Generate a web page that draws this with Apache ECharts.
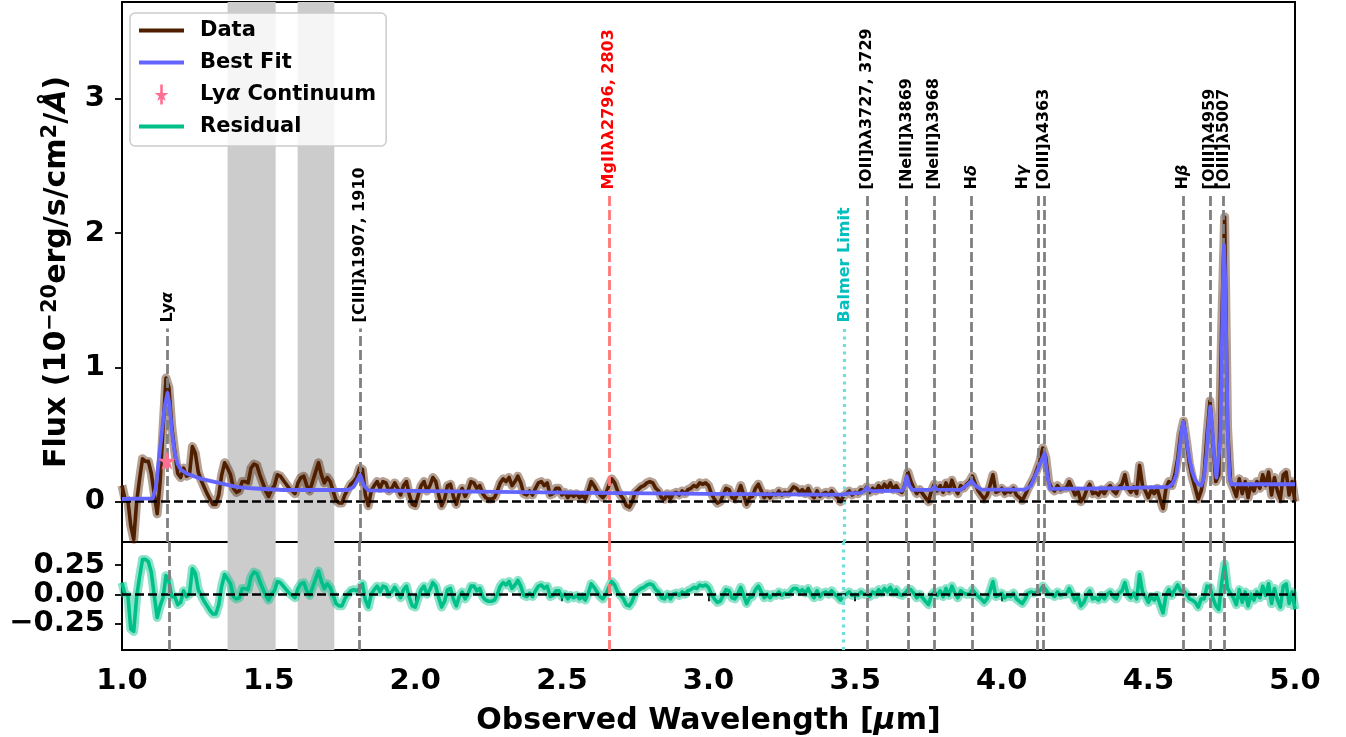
<!DOCTYPE html>
<html><head><meta charset="utf-8">
<script src="https://cdn.jsdelivr.net/npm/echarts@6/dist/echarts.min.js"></script>
<style>html,body{margin:0;padding:0;background:#fff}#chart{width:1346px;height:737px}</style>
</head><body><div id="chart"></div>
<script>
// ---------------- data ----------------
const WAVE_START = 1.0;   // µm, first spectral pixel
const WAVE_STEP = 0.01;   // µm per pixel
const flux = [
 0.12, 0.02, 0.01, -0.18, -0.28, 0.00, 0.17, 0.32, 0.30, 0.30,
 0.21, 0.06, -0.09, 0.15, 0.55, 0.92, 0.85, 0.55, 0.37, 0.21,
 0.18, 0.25, 0.19, 0.20, 0.41, 0.36, 0.22, 0.16, 0.11, 0.06,
 0.02, -0.02, -0.02, 0.05, 0.20, 0.29, 0.25, 0.20, 0.10, 0.07,
 0.08, 0.15, 0.15, 0.14, 0.25, 0.28, 0.27, 0.20, 0.14, 0.08,
 0.04, 0.09, 0.12, 0.20, 0.19, 0.16, 0.13, 0.10, 0.08, 0.06,
 0.14, 0.18, 0.19, 0.12, 0.08, 0.15, 0.22, 0.29, 0.20, 0.14,
 0.18, 0.15, 0.08, 0.01, -0.01, -0.01, 0.05, 0.09, 0.13, 0.15,
 0.18, 0.25, 0.24, 0.05, -0.03, 0.08, 0.12, 0.15, 0.10, 0.15,
 0.14, 0.08, 0.10, 0.14, 0.10, 0.05, 0.12, 0.15, 0.05, -0.02,
 -0.03, 0.05, 0.12, 0.15, 0.08, 0.12, 0.18, 0.15, 0.05, -0.03,
 0.02, 0.12, 0.13, 0.04, -0.02, 0.06, 0.10, 0.04, 0.08, 0.15,
 0.14, 0.10, 0.12, 0.06, 0.03, 0.02, 0.02, 0.03, 0.08, 0.14,
 0.17, 0.15, 0.18, 0.12, 0.15, 0.19, 0.14, 0.06, 0.05, 0.08,
 0.05, 0.10, 0.14, 0.15, 0.12, 0.14, 0.05, 0.06, 0.10, 0.10,
 0.05, 0.07, 0.03, 0.06, 0.04, 0.06, 0.03, 0.05, 0.02, 0.08,
 0.15, 0.12, 0.08, 0.05, 0.03, 0.06, 0.12, 0.17, 0.14, 0.08,
 0.05, 0.02, -0.03, -0.04, 0.00, 0.07, 0.09, 0.11, 0.12, 0.14,
 0.15, 0.14, 0.10, 0.08, 0.03, 0.02, 0.06, 0.02, 0.06, 0.07,
 0.05, 0.08, 0.06, 0.09, 0.10, 0.12, 0.11, 0.14, 0.13, 0.14,
 0.12, 0.06, 0.02, -0.01, 0.00, 0.05, 0.10, 0.09, 0.03, 0.02,
 0.06, 0.12, 0.05, -0.02, 0.03, 0.04, 0.10, 0.13, 0.08, 0.03,
 0.06, 0.03, 0.06, 0.05, 0.08, 0.05, 0.07, 0.06, 0.08, 0.11,
 0.10, 0.07, 0.09, 0.06, 0.10, 0.05, 0.03, 0.08, 0.04, 0.06,
 0.07, 0.05, 0.08, 0.05, 0.03, 0.00, 0.04, 0.06, 0.08, 0.05,
 0.07, 0.06, 0.09, 0.08, 0.11, 0.07, 0.10, 0.08, 0.12, 0.09,
 0.13, 0.10, 0.14, 0.09, 0.12, 0.08, 0.07, 0.13, 0.22, 0.15,
 0.10, 0.06, 0.09, 0.06, 0.03, 0.00, 0.08, 0.13, 0.08, 0.12,
 0.07, 0.14, 0.08, 0.16, 0.10, 0.06, 0.12, 0.10, 0.13, 0.15,
 0.19, 0.13, 0.08, 0.05, 0.02, 0.05, 0.12, 0.20, 0.07, 0.08,
 0.10, 0.06, 0.08, 0.07, 0.10, 0.05, 0.03, 0.01, 0.05, 0.10,
 0.14, 0.18, 0.24, 0.30, 0.40, 0.33, 0.15, 0.10, 0.08, 0.12,
 0.09, 0.10, 0.10, 0.15, 0.10, 0.05, 0.08, 0.00, 0.03, 0.09,
 0.13, 0.06, 0.07, 0.05, 0.09, 0.06, 0.10, 0.12, 0.08, 0.06,
 0.11, 0.13, 0.20, 0.10, 0.07, 0.11, 0.06, 0.27, 0.12, 0.08,
 0.03, 0.09, 0.06, 0.10, 0.02, -0.05, 0.10, 0.15, 0.12, 0.20,
 0.32, 0.50, 0.60, 0.45, 0.28, 0.18, 0.10, 0.02, 0.08, 0.20,
 0.50, 0.75, 0.45, 0.15, 0.20, 1.30, 2.12, 0.55, 0.15, 0.10,
 0.04, 0.17, 0.06, 0.15, 0.03, 0.13, 0.08, 0.15, 0.10, 0.20,
 0.12, 0.22, 0.05, 0.18, 0.08, 0.02, 0.20, 0.22, 0.05, 0.15,
 0.00
];
const residual = [
 0.10, 0.00, -0.01, -0.30, -0.32, -0.02, 0.15, 0.30, 0.30, 0.28,
 0.19, -0.01, -0.20, -0.10, -0.03, 0.16, 0.11, -0.02, -0.02, -0.09,
 -0.07, 0.03, -0.02, 0.00, 0.22, 0.18, 0.04, -0.01, -0.06, -0.10,
 -0.14, -0.17, -0.17, -0.09, 0.07, 0.17, 0.13, 0.09, -0.02, -0.04,
 -0.03, 0.05, 0.05, 0.04, 0.15, 0.19, 0.18, 0.11, 0.05, -0.01,
 -0.05, 0.00, 0.03, 0.11, 0.10, 0.07, 0.04, 0.01, -0.01, -0.03,
 0.05, 0.09, 0.10, 0.03, -0.01, 0.06, 0.13, 0.20, 0.11, 0.05,
 0.09, 0.06, -0.01, -0.08, -0.10, -0.10, -0.04, 0.00, 0.03, 0.04,
 0.03, 0.05, 0.09, -0.05, -0.11, 0.00, 0.04, 0.07, 0.02, 0.07,
 0.06, 0.00, 0.02, 0.06, 0.02, -0.03, 0.04, 0.07, -0.03, -0.10,
 -0.11, -0.03, 0.04, 0.07, 0.00, 0.04, 0.10, 0.07, -0.03, -0.11,
 -0.06, 0.04, 0.05, -0.04, -0.10, -0.02, 0.02, -0.04, 0.00, 0.07,
 0.07, 0.03, 0.05, -0.02, -0.05, -0.06, -0.06, -0.05, 0.00, 0.07,
 0.10, 0.08, 0.11, 0.05, 0.08, 0.12, 0.07, -0.01, -0.02, 0.01,
 -0.02, 0.03, 0.07, 0.08, 0.05, 0.07, -0.02, -0.01, 0.03, 0.03,
 -0.02, 0.00, -0.04, -0.01, -0.03, -0.01, -0.04, -0.02, -0.05, 0.01,
 0.09, 0.06, 0.02, -0.02, -0.04, 0.00, 0.06, 0.11, 0.08, 0.02,
 -0.01, -0.04, -0.09, -0.10, -0.06, 0.01, 0.03, 0.05, 0.06, 0.08,
 0.09, 0.08, 0.04, 0.02, -0.03, -0.04, 0.00, -0.04, 0.00, 0.01,
 -0.01, 0.02, 0.00, 0.03, 0.04, 0.06, 0.05, 0.08, 0.07, 0.08,
 0.06, 0.00, -0.04, -0.07, -0.06, -0.01, 0.04, 0.03, -0.03, -0.04,
 0.00, 0.06, -0.01, -0.08, -0.03, -0.02, 0.04, 0.07, 0.02, -0.03,
 0.00, -0.03, 0.00, -0.01, 0.02, -0.01, 0.01, 0.00, 0.02, 0.05,
 0.05, 0.02, 0.04, 0.01, 0.05, 0.00, -0.03, 0.03, -0.02, 0.01,
 0.02, 0.00, 0.03, 0.00, -0.02, -0.05, -0.01, 0.00, 0.02, -0.01,
 0.00, -0.01, 0.02, 0.00, 0.00, -0.02, 0.02, 0.00, 0.04, 0.01,
 0.05, 0.02, 0.06, 0.01, 0.04, 0.00, -0.01, 0.01, 0.04, 0.04,
 0.01, -0.03, 0.00, -0.03, -0.06, -0.09, -0.01, 0.02, -0.01, 0.03,
 -0.02, 0.05, -0.01, 0.07, 0.01, -0.03, 0.03, 0.01, 0.00, 0.00,
 0.04, 0.01, -0.02, -0.04, -0.07, -0.04, 0.03, 0.11, -0.02, -0.01,
 0.01, -0.03, -0.01, -0.02, 0.01, -0.04, -0.06, -0.08, -0.04, 0.01,
 0.02, 0.01, 0.02, 0.03, 0.07, 0.04, 0.00, 0.00, -0.02, 0.02,
 -0.01, 0.00, 0.00, 0.05, 0.00, -0.05, -0.02, -0.10, -0.07, -0.01,
 0.03, -0.04, -0.03, -0.05, -0.01, -0.04, 0.00, 0.02, -0.02, -0.04,
 0.01, 0.03, 0.10, 0.00, -0.03, 0.01, -0.04, 0.17, 0.02, -0.02,
 -0.07, -0.02, -0.05, -0.01, -0.09, -0.16, -0.01, 0.04, -0.01, 0.04,
 0.08, 0.03, 0.03, 0.00, -0.04, -0.05, -0.07, -0.11, -0.04, -0.04,
 0.07, 0.06, -0.03, -0.10, -0.13, 0.10, 0.26, 0.05, 0.01, -0.03,
 -0.09, 0.04, -0.07, 0.02, -0.10, 0.00, -0.05, 0.02, -0.03, 0.07,
 -0.01, 0.09, -0.08, 0.05, -0.05, -0.11, 0.07, 0.09, -0.08, 0.02,
 -0.13
];
// best-fit model, [wavelength µm, flux]
const bestFit = [
 [1.00,0.02],[1.105,0.025],[1.115,0.10],[1.125,0.30],[1.135,0.50],[1.145,0.70],[1.155,0.81],
 [1.162,0.72],[1.17,0.52],[1.18,0.36],[1.19,0.28],[1.20,0.24],[1.22,0.21],[1.27,0.17],
 [1.33,0.14],[1.39,0.11],[1.44,0.10],[1.55,0.087],[1.77,0.087],[1.79,0.11],[1.80,0.15],
 [1.812,0.20],[1.825,0.12],[1.84,0.085],[2.2,0.075],[2.6,0.065],[3.0,0.058],[3.4,0.053],
 [3.46,0.053],[3.47,0.06],[3.52,0.065],[3.53,0.08],[3.541,0.105],[3.55,0.085],[3.56,0.078],
 [3.66,0.082],[3.67,0.12],[3.676,0.19],[3.685,0.12],[3.695,0.088],[3.76,0.088],[3.77,0.11],
 [3.78,0.09],[3.86,0.088],[3.885,0.13],[3.897,0.155],[3.91,0.12],[3.93,0.09],[4.08,0.09],
 [4.10,0.12],[4.125,0.25],[4.146,0.36],[4.155,0.20],[4.165,0.095],[4.40,0.10],[4.57,0.11],
 [4.585,0.14],[4.595,0.20],[4.605,0.36],[4.612,0.50],[4.618,0.59],[4.624,0.55],[4.632,0.43],
 [4.64,0.32],[4.65,0.22],[4.66,0.16],[4.67,0.13],[4.68,0.12],[4.69,0.18],[4.698,0.35],
 [4.705,0.58],[4.711,0.71],[4.717,0.58],[4.724,0.35],[4.732,0.18],[4.738,0.17],[4.745,0.45],
 [4.75,1.05],[4.754,1.60],[4.758,1.91],[4.762,1.65],[4.766,1.10],[4.771,0.50],[4.776,0.20],
 [4.782,0.13],[5.00,0.13]
];
const lyaContWave = 1.153, lyaContFlux = 0.305, lyaContErr = 0.06;
const maskedRanges = [[1.36, 1.524], [1.599, 1.724]];
const lineNames = ['Lyα', '[CIII]λ1907, 1910', 'MgIIλλ2796, 2803', 'Balmer Limit',
  '[OII]λλ3727, 3729', '[NeIII]λ3869', '[NeIII]λ3968', 'Hδ', 'Hγ', '[OIII]λ4363',
  'Hβ', '[OIII]λ4959', '[OIII]λ5007'];
const lineWaves = [1.155, 1.812, 2.660, 3.464, 3.541, 3.676, 3.770, 3.897, 4.123, 4.145, 4.618, 4.711, 4.757];
const fluxTicks = [0, 1, 2, 3];
const residTicks = [-0.25, 0, 0.25];

// ---------------- build ----------------
const FONT = 'DejaVu Sans';
const wave = flux.map((_, i) => +(WAVE_START + i * WAVE_STEP).toFixed(3));
const fluxPts = flux.map((v, i) => [wave[i], v]);
const residPts = residual.map((v, i) => [wave[i], v]);
const LOW_LINES = new Set(['Lyα', '[CIII]λ1907, 1910', 'Balmer Limit']);
const lineStyleFor = n => n.startsWith('Mg') ? {color:'#ff7878', type:[10,4], width:2.8, opacity:1}
  : n === 'Balmer Limit' ? {color:'#70dcdc', type:[3,4.5], width:3.2, opacity:1}
  : {color:'#808080', type:[10,4], width:2.8, opacity:1};
const labelColor = n => n.startsWith('Mg') ? '#ff0000' : n === 'Balmer Limit' ? '#00bfbf' : '#000';
const richText = n => n.replace(/([αβγδ])/g, '{it|$1}');

const mainMark = lineNames.map((n, i) => {
  const top = LOW_LINES.has(n) ? 1.29 : 2.28;
  const ls = lineStyleFor(n);
  return [{coord:[lineWaves[i], -0.3], lineStyle: ls}, {coord:[lineWaves[i], top], lineStyle: ls}];
});
const residMark = lineNames.map((n, i) => ({xAxis: lineWaves[i], lineStyle: lineStyleFor(n)}));
const labelPts = lineNames.map((n, i) => ({
  value: [lineWaves[i], LOW_LINES.has(n) ? 1.29 : 2.28],
  label: {
    show: true, formatter: richText(n), rotate: 90, position: 'top', distance: 6,
    align: 'left', verticalAlign: 'middle', offset: n === 'Hγ' ? [0, -15] : [0, 0],
    fontFamily: FONT, fontWeight: 'bold', fontSize: 16, color: labelColor(n), opacity: 1,
    rich: {it: {fontStyle: 'italic', fontFamily: FONT, fontWeight: 'bold', fontSize: 16, color: labelColor(n)}}
  }
}));
const maskAreas = maskedRanges.map(r => [{xAxis: r[0]}, {xAxis: r[1]}]);

const starPath = 'path://M50,0 L61,35 L98,35 L68,57 L79,91 L50,70 L21,91 L32,57 L2,35 L39,35 Z';
const starBarPath = 'path://M50,0 L61,35 L98,35 L68,57 L79,91 L50,70 L21,91 L32,57 L2,35 L39,35 Z M41,-24 L59,-24 L59,115 L41,115 Z';
const linePath = 'path://M0,0 L300,0 L300,26 L0,26 Z';

const chart = echarts.init(document.getElementById('chart'), null, {renderer: 'canvas'});
const tickLabel = {fontFamily: FONT, fontWeight: 'bold', fontSize: 29, color: '#000'};
chart.setOption({
  animation: false,
  backgroundColor: '#fff',
  grid: [
    {left: 122, right: 51, top: 2, height: 540, show: true, borderColor: '#000', borderWidth: 2, backgroundColor: 'transparent', outerBoundsMode: 'none'},
    {left: 122, right: 51, top: 542, height: 108, show: true, borderColor: '#000', borderWidth: 2, backgroundColor: 'transparent', outerBoundsMode: 'none'}
  ],
  xAxis: [
    {gridIndex: 0, type: 'value', min: 1, max: 5, interval: 0.5, axisLine: {show: false}, axisTick: {show: false}, axisLabel: {show: false}, splitLine: {show: false}},
    {gridIndex: 1, type: 'value', min: 1, max: 5, interval: 0.5, axisLine: {show: false},
     axisTick: {show: true, length: 7, lineStyle: {color: '#000', width: 1.8}},
     axisLabel: Object.assign({margin: 17, formatter: v => v.toFixed(1)}, tickLabel), splitLine: {show: false},
     name: 'Observed Wavelength [{it|μ}m]', nameLocation: 'middle', nameGap: 56,
     nameTextStyle: {fontFamily: FONT, fontWeight: 'bold', fontSize: 30, color: '#000',
       rich: {it: {fontStyle: 'italic', fontFamily: FONT, fontWeight: 'bold', fontSize: 30, color: '#000'}}}}
  ],
  yAxis: [
    {gridIndex: 0, type: 'value', min: -0.3, max: 3.72, axisLine: {show: false},
     axisTick: {show: true, length: 7, customValues: fluxTicks, lineStyle: {color: '#000', width: 1.8}},
     axisLabel: Object.assign({margin: 17, customValues: fluxTicks, formatter: v => String(v)}, tickLabel),
     splitLine: {show: false},
     name: 'Flux (10{sup|−20}erg/s/cm{sup|2}/{it|Å})', nameLocation: 'middle', nameGap: 48, nameRotate: 90,
     nameTextStyle: {fontFamily: FONT, fontWeight: 'bold', fontSize: 30, color: '#000', lineHeight: 34,
       rich: {sup: {fontFamily: FONT, fontWeight: 'bold', fontSize: 21, color: '#000', verticalAlign: 'top', lineHeight: 20},
              it: {fontStyle: 'italic', fontFamily: FONT, fontWeight: 'bold', fontSize: 30, color: '#000'}}}},
    {gridIndex: 1, type: 'value', min: -0.48, max: 0.45, axisLine: {show: false},
     axisTick: {show: true, length: 7, customValues: residTicks, lineStyle: {color: '#000', width: 1.8}},
     axisLabel: Object.assign({margin: 17, customValues: residTicks, formatter: v => (v < 0 ? '−' : '') + Math.abs(v).toFixed(2)}, tickLabel),
     splitLine: {show: false}}
  ],
  legend: {
    orient: 'vertical', left: 130, top: 13, padding: [7, 10, 9, 9], itemGap: 11,
    itemWidth: 45, itemHeight: 20, symbolKeepAspect: true,
    backgroundColor: 'rgba(255,255,255,0.8)', borderColor: '#cccccc', borderWidth: 1.5, borderRadius: 5,
    textStyle: {fontFamily: FONT, fontWeight: 'bold', fontSize: 21, color: '#000', padding: [0, 0, 0, 11],
      rich: {it: {fontStyle: 'italic', fontFamily: FONT, fontWeight: 'bold', fontSize: 21, color: '#000'}}},
    formatter: n => richText(n),
    data: [
      {name: 'Data', icon: linePath, itemStyle: {color: '#4f1f00', opacity: 1}},
      {name: 'Best Fit', icon: linePath, itemStyle: {color: '#6464ff', opacity: 1}},
      {name: 'Lyα Continuum', icon: starBarPath, itemStyle: {color: '#ff6f91', opacity: 1}},
      {name: 'Residual', icon: linePath, itemStyle: {color: '#00c08a', opacity: 1}}
    ]
  },
  series: [
    {type: 'line', xAxisIndex: 0, yAxisIndex: 0, data: [], silent: true, z: 1,
     markArea: {silent: true, itemStyle: {color: '#cccccc', opacity: 1}, data: maskAreas}},
    {type: 'line', xAxisIndex: 1, yAxisIndex: 1, data: [], silent: true, z: 1,
     markArea: {silent: true, itemStyle: {color: '#cccccc', opacity: 1}, data: maskAreas}},
    {type: 'line', name: 'zero', xAxisIndex: 0, yAxisIndex: 0, data: [], silent: true, z: 2,
     markLine: {silent: true, symbol: 'none', label: {show: false},
       lineStyle: {color: '#000', type: [9, 4], width: 2.6, opacity: 1}, data: [{yAxis: 0}]}},
    {type: 'line', name: 'Data err', xAxisIndex: 0, yAxisIndex: 0, data: fluxPts, symbol: 'none', silent: true, z: 3,
     lineStyle: {color: 'rgba(79,31,0,0.42)', width: 9, join: 'round'}},
    {type: 'line', name: 'Data', xAxisIndex: 0, yAxisIndex: 0, data: fluxPts, symbol: 'none', z: 4,
     itemStyle: {color: '#4f1f00'}, lineStyle: {color: '#4f1f00', width: 3.6, join: 'round'}},
    {type: 'line', name: 'lines', xAxisIndex: 0, yAxisIndex: 0, data: [], silent: true, z: 5,
     markLine: {silent: true, symbol: 'none', label: {show: false}, data: mainMark}},
    {type: 'line', name: 'Best Fit', xAxisIndex: 0, yAxisIndex: 0, data: bestFit, symbol: 'none', z: 6,
     itemStyle: {color: '#6464ff'}, lineStyle: {color: '#6464ff', width: 3.8, join: 'round'}},
    {type: 'custom', name: 'Lyα err', xAxisIndex: 0, yAxisIndex: 0, z: 7, silent: true,
     data: [[lyaContWave, lyaContFlux - lyaContErr, lyaContFlux + lyaContErr]],
     renderItem: (p, api) => {
       const a = api.coord([api.value(0), api.value(1)]), b = api.coord([api.value(0), api.value(2)]);
       return {type: 'line', shape: {x1: a[0], y1: a[1], x2: b[0], y2: b[1]}, style: {stroke: '#ff6f91', lineWidth: 3.5}};
     }},
    {type: 'scatter', name: 'Lyα Continuum', xAxisIndex: 0, yAxisIndex: 0, z: 8,
     data: [[lyaContWave, lyaContFlux]], symbol: starPath, symbolSize: 18, itemStyle: {color: '#ff6f91', opacity: 1}},
    {type: 'scatter', name: 'labels', xAxisIndex: 0, yAxisIndex: 0, z: 9, silent: true,
     symbolSize: 0, itemStyle: {opacity: 1}, data: labelPts},
    // residual panel
    {type: 'line', name: 'rzero', xAxisIndex: 1, yAxisIndex: 1, data: [], silent: true, z: 2,
     markLine: {silent: true, symbol: 'none', label: {show: false},
       lineStyle: {color: '#000', type: [9, 4], width: 2.6, opacity: 1}, data: [{yAxis: 0}]}},
    {type: 'line', name: 'Residual err', xAxisIndex: 1, yAxisIndex: 1, data: residPts, symbol: 'none', silent: true, z: 3,
     lineStyle: {color: 'rgba(0,192,138,0.45)', width: 9, join: 'round'}},
    {type: 'line', name: 'Residual', xAxisIndex: 1, yAxisIndex: 1, data: residPts, symbol: 'none', z: 4,
     itemStyle: {color: '#00c08a'}, lineStyle: {color: '#00c08a', width: 3.6, join: 'round'}},
    {type: 'line', name: 'rlines', xAxisIndex: 1, yAxisIndex: 1, data: [], silent: true, z: 5,
     markLine: {silent: true, symbol: 'none', label: {show: false}, data: residMark}}
  ]
});
</script></body></html>
